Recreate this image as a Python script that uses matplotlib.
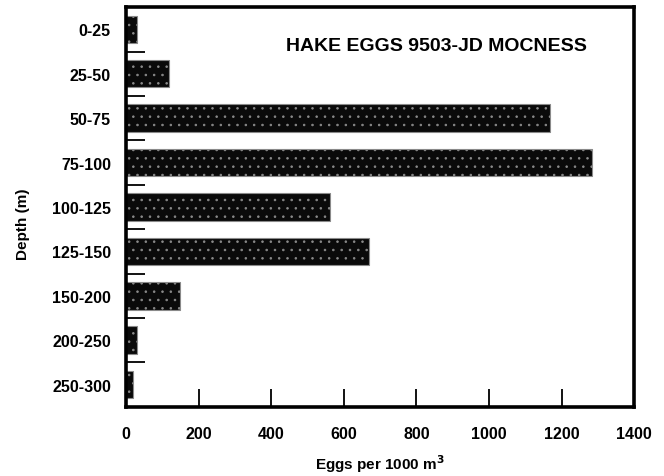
import numpy as np
import matplotlib.pyplot as plt

plt.rcParams['font.family'] = ['Liberation Sans', 'DejaVu Sans']
plt.rcParams['font.weight'] = 'bold'

depths = ['0-25', '25-50', '50-75', '75-100', '100-125', '125-150',
          '150-200', '200-250', '250-300']
eggs = [30, 119, 1167, 1283, 563, 670, 149, 30, 19]
xticks = [0, 200, 400, 600, 800, 1000, 1200, 1400]

fig = plt.figure(figsize=(6.64, 4.77), dpi=100)
ax = fig.add_axes([0.19, 0.145, 0.765, 0.838])

pos = np.arange(len(depths))
plt.rcParams['hatch.color'] = '#333333'
plt.rcParams['hatch.linewidth'] = 0.6
ax.barh(pos, eggs, height=0.62, color='#0a0a0a', edgecolor='#8a8a8a',
        linewidth=0.8, hatch='..')

ax.set_xlim(0, 1400)
ax.set_ylim(len(depths) - 0.5, -0.5)

ax.set_xticks(xticks)
ax.set_xticklabels([str(t) for t in xticks], fontsize=11.5, fontweight='bold')
ax.tick_params(axis='x', direction='in', length=13, width=1.3, pad=14)

ax.set_yticks(pos)
ax.set_yticklabels(depths, fontsize=11.5, fontweight='bold')
ax.tick_params(axis='y', which='major', length=0, pad=11)
ax.set_yticks(pos[:-1] + 0.5, minor=True)
ax.tick_params(axis='y', which='minor', direction='in', length=14, width=1.3)

for s in ax.spines.values():
    s.set_linewidth(2.6)

ax.set_xlabel('Eggs per 1000 m$^{\\mathbf{3}}$', fontsize=11, fontweight='bold',
              labelpad=8)
ax.set_ylabel('Depth (m)', fontsize=11, fontweight='bold')
ax.yaxis.set_label_coords(-0.19, 0.46)

ax.text(0.61, 0.905, 'HAKE EGGS 9503-JD MOCNESS', transform=ax.transAxes,
        ha='center', va='center', fontsize=14, fontweight='bold')

fig.savefig('out.png', dpi=100)
